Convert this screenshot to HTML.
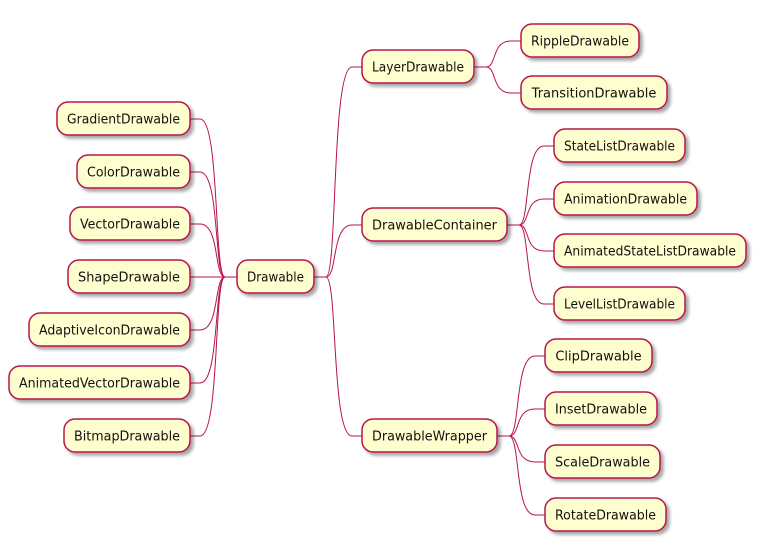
<!DOCTYPE html>
<html><head><meta charset="utf-8"><style>
html,body{margin:0;padding:0;background:#fff;width:759px;height:549px;overflow:hidden}
text{font-family:"DejaVu Sans","Liberation Sans",sans-serif;font-size:13px;fill:#111}
</style></head><body>
<svg id="s" width="759" height="549" xmlns="http://www.w3.org/2000/svg">
<defs><filter id="sh" x="-10%" y="-20%" width="130%" height="160%"><feGaussianBlur in="SourceAlpha" stdDeviation="1.6"/><feOffset dx="3" dy="3"/><feComponentTransfer><feFuncA type="linear" slope="0.35"/></feComponentTransfer><feMerge><feMergeNode/><feMergeNode in="SourceGraphic"/></feMerge></filter></defs>
<g id="lines" fill="none" stroke="#B8124A" stroke-width="1"></g>
<g id="nodes"></g>
</svg>
<script>
var N=[
["Drawable",237,314,277],
["GradientDrawable",57,190,119],["ColorDrawable",77,190,172],["VectorDrawable",70,190,224],["ShapeDrawable",68,190,277],["AdaptiveIconDrawable",29,190,330],["AnimatedVectorDrawable",9,190,383],["BitmapDrawable",64,190,436],
["LayerDrawable",362,474,67],["DrawableContainer",362,507,225],["DrawableWrapper",362,497,436],
["RippleDrawable",521,639,41],["TransitionDrawable",521,667,93],
["StateListDrawable",554,685,146],["AnimationDrawable",554,697,199],["AnimatedStateListDrawable",554,746,251],["LevelListDrawable",554,685,304],
["ClipDrawable",545,652,356],["InsetDrawable",545,657,409],["ScaleDrawable",545,660,462],["RotateDrawable",545,666,515]];
var ns="http://www.w3.org/2000/svg",L=document.getElementById("lines"),G=document.getElementById("nodes");
var M={};N.forEach(function(n){M[n[0]]=n;});
function link(p,c,left){
 var path=document.createElementNS(ns,"path"),d;
 if(!left){var x1=p[2],x2=c[1],y1=p[3],y2=c[3],j=x1+12,k=x2-10;
  d="M"+x1+","+y1+" L"+j+","+y1+" C"+(j+ (k-j)*0.45)+","+y1+" "+(j+(k-j)*0.2)+","+y2+" "+k+","+y2+" L"+x2+","+y2;}
 else{var x1=p[1],x2=c[2],y1=p[3],y2=c[3],j=x1-12,k=x2+10;
  d="M"+x1+","+y1+" L"+j+","+y1+" C"+(j-(j-k)*0.45)+","+y1+" "+(j-(j-k)*0.2)+","+y2+" "+k+","+y2+" L"+x2+","+y2;}
 path.setAttribute("d",d);L.appendChild(path);}
["GradientDrawable","ColorDrawable","VectorDrawable","ShapeDrawable","AdaptiveIconDrawable","AnimatedVectorDrawable","BitmapDrawable"].forEach(function(c){link(M.Drawable,M[c],true);});
["LayerDrawable","DrawableContainer","DrawableWrapper"].forEach(function(c){link(M.Drawable,M[c]);});
["RippleDrawable","TransitionDrawable"].forEach(function(c){link(M.LayerDrawable,M[c]);});
["StateListDrawable","AnimationDrawable","AnimatedStateListDrawable","LevelListDrawable"].forEach(function(c){link(M.DrawableContainer,M[c]);});
["ClipDrawable","InsetDrawable","ScaleDrawable","RotateDrawable"].forEach(function(c){link(M.DrawableWrapper,M[c]);});
N.forEach(function(n){
 var r=document.createElementNS(ns,"rect");
 r.setAttribute("x",n[1]);r.setAttribute("y",n[3]-17);r.setAttribute("width",n[2]-n[1]);r.setAttribute("height",33);
 r.setAttribute("rx",11);r.setAttribute("fill","#FEFECE");r.setAttribute("stroke","#B8124A");r.setAttribute("stroke-width","1.5");r.setAttribute("filter","url(#sh)");
 G.appendChild(r);
 var t=document.createElementNS(ns,"text");t.setAttribute("x",(n[1]+n[2])/2);t.setAttribute("y",n[3]+4.5);t.setAttribute("text-anchor","middle");
 t.textContent=n[0];G.appendChild(t);
 var w=n[2]-n[1]-20;
 if(t.getComputedTextLength()>w){t.setAttribute("textLength",w);t.setAttribute("lengthAdjust","spacingAndGlyphs");}
});
</script>
</body></html>
